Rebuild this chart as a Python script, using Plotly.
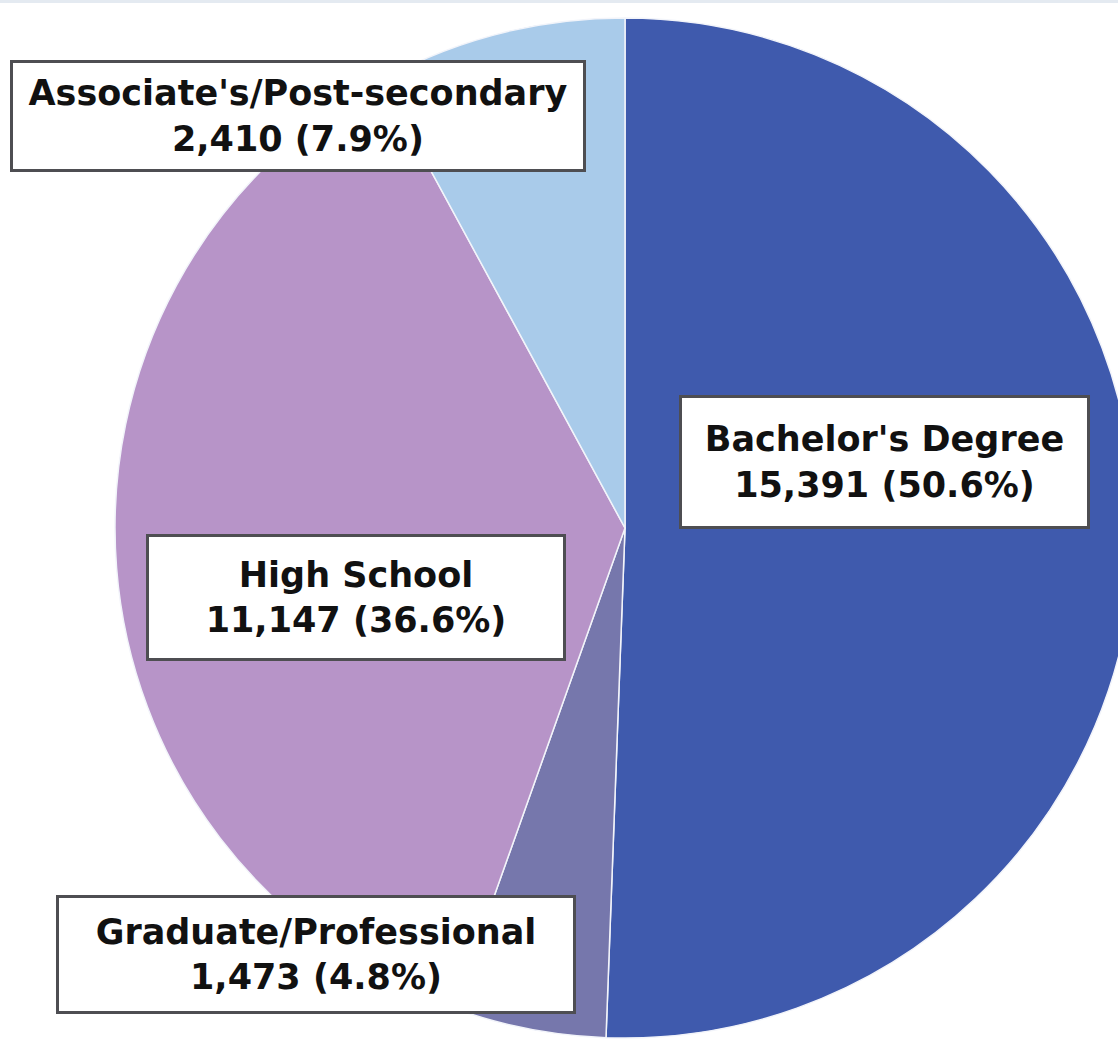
import plotly.graph_objects as go

# ---- data ----
categories = ["Bachelor's Degree", "Graduate/Professional", "High School", "Associate's/Post-secondary"]
values = [15391, 1473, 11147, 2410]
colors = ["#3F5AAD", "#7677AC", "#B794C8", "#A9CBEA"]

# ---- layout constants (pixels in the figure) ----
W, H = 1250, 1100
CX, CY, R = 625, 528, 510
# label box centers / sizes (px, from top-left)
label_boxes = {
    "Associate's/Post-secondary": (298, 116, 570, 106),
    "Bachelor's Degree": (884, 462, 405, 128),
    "High School": (356, 598, 414, 121),
    "Graduate/Professional": (316, 954, 514, 113),
}

total = sum(values)

fig = go.Figure()
fig.add_trace(go.Pie(
    labels=categories,
    values=values,
    sort=False,
    direction="clockwise",
    rotation=0,
    marker=dict(colors=colors, line=dict(color="#F2F4FA", width=1.5)),
    textinfo="none",
    hoverinfo="skip",
    showlegend=False,
    domain=dict(x=[(CX - R) / W, (CX + R) / W],
                y=[1 - (CY + R) / H, 1 - (CY - R) / H]),
))

for name, v in zip(categories, values):
    bx, by, bw, bh = label_boxes[name]
    fig.add_annotation(
        x=bx / W, y=1 - by / H, xref="paper", yref="paper",
        xanchor="center", yanchor="middle",
        text=f"{name}<br>{v:,} ({v / total * 100:.1f}%)",
        showarrow=False,
        font=dict(family="DejaVu Sans", size=35, color="#111111", weight="bold"),
        bgcolor="white", bordercolor="#4E4E52", borderwidth=3, borderpad=0,
        width=bw, height=bh, align="center", valign="middle",
    )

# faint frame line at the top
fig.add_shape(type="rect", xref="paper", yref="paper",
              x0=0, x1=1, y0=1 - 3 / H, y1=1,
              fillcolor="#E4EAF1", line=dict(width=0), layer="below")

fig.update_layout(
    width=W, height=H, autosize=False,
    margin=dict(l=0, r=0, t=0, b=0),
    paper_bgcolor="white", plot_bgcolor="white",
)

fig.write_html(
    "out.html",
    config={"displayModeBar": False},
    post_script="document.body.style.margin='0';document.body.style.overflow='hidden';",
)
